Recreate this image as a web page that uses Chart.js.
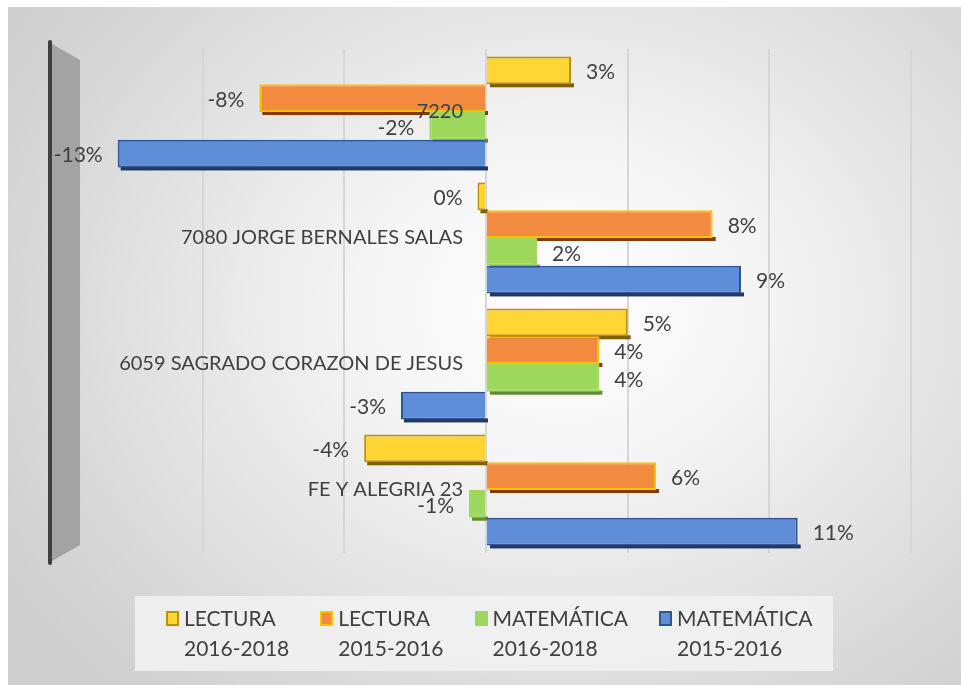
<!DOCTYPE html>
<html lang="es">
<head>
<meta charset="UTF-8">
<title>Variación por institución</title>
<script src="https://cdn.jsdelivr.net/npm/chart.js"></script>
<style>
  body { margin: 0; background: #fff; font-family: Lato, "Open Sans", sans-serif; }
  #frame {
    position: absolute; left: 8px; top: 7px; width: 953px; height: 678px;
    background: radial-gradient(ellipse 640px 520px at 552px 300px, #ffffff 0%, #f5f5f5 30%, #dcdcdc 75%, #cfcfcf 100%);
  }
  #chart { position: absolute; left: 0; top: 0; }
  #legend {
    position: absolute; left: 135px; top: 596px; width: 698px; height: 75px;
    background: rgba(242, 242, 242, 0.85); box-sizing: border-box;
    display: flex; align-items: flex-start; padding: 7px 0 0 31px; gap: 31px;
  }
  .item { display: flex; align-items: flex-start; color: #404040; font-size: 21px; line-height: 30px; }
  .box { width: 13px; height: 15px; margin: 8px 5px 0 0; box-sizing: border-box; border: 2px solid; }
</style>
</head>
<body>
<div id="frame"></div>
<canvas id="chart" width="961" height="685"></canvas>
<div id="legend"></div>

<script>
    // data (percent change)
    const categories = ['7220', '7080 JORGE BERNALES SALAS', '6059 SAGRADO CORAZON DE JESUS', 'FE Y ALEGRIA 23'];
    const seriesNames = [['LECTURA', '2016-2018'], ['LECTURA', '2015-2016'], ['MATEMÁTICA', '2016-2018'], ['MATEMÁTICA', '2015-2016']];
    const lectura1618 = [3, -0.3, 5, -4.3];
    const lectura1516 = [-8, 8, 4, 6];
    const matematica1618 = [-2, 1.8, 4, -0.6];
    const matematica1516 = [-13, 9, -3, 11];

    const fills = ['#FFD634', '#F28B3F', '#9DD75C', '#5F8DD8'];
    const borders = ['#BF9000', '#FFC000', '#9DD75C', '#2F5597'];
    const shades = ['#7F6000', '#843C0C', '#5E8C2E', '#1F3864'];
    const values = [lectura1618, lectura1516, matematica1618, matematica1516];

    const datasets = values.map((v, i) => ({
        label: seriesNames[i].join(' '),
        data: v,
        backgroundColor: fills[i],
        borderColor: borders[i],
        borderWidth: 2
    }));

    // grey side wall on the left, like the 3D excel chart
    const wall = {
        id: 'wall',
        beforeDatasetsDraw(chart) {
            const {ctx, chartArea: a} = chart;
            const x = a.left - 11;
            ctx.save();
            ctx.fillStyle = '#a3a3a3';
            ctx.beginPath();
            ctx.moveTo(x + 2, a.top - 5);
            ctx.lineTo(x + 30, a.top + 11);
            ctx.lineTo(x + 30, a.bottom - 8);
            ctx.lineTo(x + 2, a.bottom + 8);
            ctx.closePath();
            ctx.fill();
            ctx.strokeStyle = '#3f3f3f';
            ctx.lineWidth = 4;
            ctx.lineCap = 'round';
            ctx.beginPath();
            ctx.moveTo(x, a.top - 7);
            ctx.lineTo(x, a.bottom + 10);
            ctx.stroke();
            ctx.restore();
        }
    };

    // dark bottom face under each bar
    const shade = {
        id: 'shade',
        beforeDatasetsDraw(chart) {
            const ctx = chart.ctx;
            ctx.save();
            chart.data.datasets.forEach((ds, i) => {
                ctx.fillStyle = shades[i];
                chart.getDatasetMeta(i).data.forEach(bar => {
                    const x0 = Math.min(bar.x, bar.base);
                    const w = Math.abs(bar.x - bar.base);
                    const y1 = bar.y + bar.height / 2;
                    ctx.fillRect(x0 + 3, y1 - 1, w, 4);
                });
            });
            ctx.restore();
        }
    };

    // value labels at the bar ends + category names left of the zero line, on top of the bars
    const labels = {
        id: 'labels',
        afterDatasetsDraw(chart) {
            const {ctx, scales} = chart;
            ctx.save();
            ctx.fillStyle = '#404040';
            ctx.textBaseline = 'middle';
            ctx.font = '21px Lato, "Open Sans", sans-serif';
            chart.data.datasets.forEach((ds, i) => {
                chart.getDatasetMeta(i).data.forEach((bar, j) => {
                    const v = ds.data[j];
                    const txt = Math.round(v) + '%';
                    ctx.textAlign = v >= 0 ? 'left' : 'right';
                    ctx.fillText(txt, v >= 0 ? bar.x + 15 : bar.x - 15, bar.y + 2);
                });
            });
            ctx.font = '20px Lato, "Open Sans", sans-serif';
            ctx.textAlign = 'right';
            const x0 = scales.x.getPixelForValue(0);
            categories.forEach((c, j) => {
                ctx.fillText(c, x0 - 23, scales.y.getPixelForValue(j));
            });
            ctx.restore();
        }
    };

    new Chart(document.getElementById('chart'), {
        type: 'bar',
        data: { labels: categories, datasets: datasets },
        options: {
            indexAxis: 'y',
            responsive: false,
            animation: false,
            layout: { padding: { left: 61, right: 50, top: 49, bottom: 132 } },
            datasets: { bar: { categoryPercentage: 0.88, barPercentage: 1 } },
            plugins: { legend: { display: false }, tooltip: { enabled: false } },
            scales: {
                x: {
                    min: -15, max: 15,
                    ticks: { display: false, stepSize: 5 },
                    grid: { color: '#d6d6d6', lineWidth: 2, drawTicks: false },
                    border: { display: false }
                },
                y: {
                    position: { x: 0 },
                    grid: { display: false },
                    border: { display: false },
                    ticks: { display: false }
                }
            }
        },
        plugins: [wall, shade, labels]
    });

    // html legend, labels on two lines
    const legend = document.getElementById('legend');
    seriesNames.forEach((name, i) => {
        const item = document.createElement('div');
        item.className = 'item';
        const box = document.createElement('span');
        box.className = 'box';
        box.style.background = fills[i];
        box.style.borderColor = borders[i];
        const text = document.createElement('div');
        text.innerHTML = name[0] + '<br>' + name[1];
        item.appendChild(box);
        item.appendChild(text);
        legend.appendChild(item);
    });
</script>
</body>
</html>
